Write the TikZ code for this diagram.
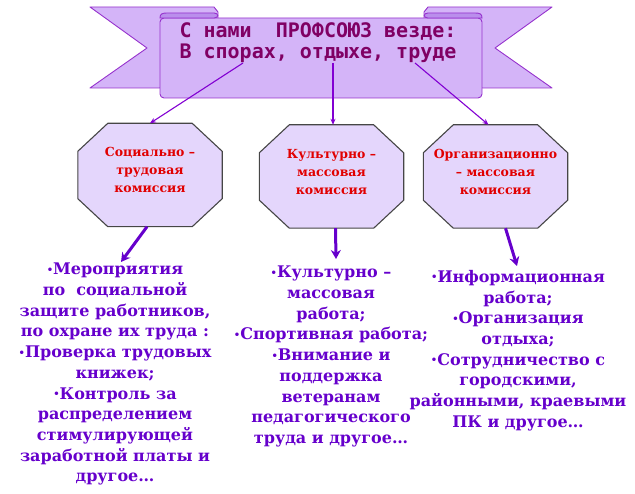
\documentclass[tikz,border=0pt]{standalone}
\usepackage{fontspec}
\setmainfont{DejaVu Serif}
\newfontfamily\bannerfont{DejaVu Sans Mono}
\usetikzlibrary{arrows.meta}
\definecolor{pkband}{RGB}{212,180,248}
\definecolor{pkcurl}{RGB}{186,142,236}
\definecolor{pkline}{RGB}{150,50,205}
\definecolor{pktitle}{RGB}{128,0,100}
\definecolor{pkthin}{RGB}{130,0,210}
\definecolor{pkokt}{RGB}{228,214,252}
\definecolor{pkrim}{RGB}{70,70,70}
\definecolor{pkred}{RGB}{225,0,0}
\definecolor{pklist}{RGB}{102,0,204}
\pgfdeclarelayer{back}
\pgfsetlayers{back,main}
\newcommand\blt{\raisebox{1.5pt}{\fontsize{10}{10}\selectfont •}}
\tikzset{
	band/.style={fill=pkband, draw=pkline, line width=0.9pt, line join=round},
	curl/.style={fill=pkcurl, draw=pkline, line width=0.9pt},
	titletext/.style={font=\bannerfont\bfseries\fontsize{20}{21}\selectfont, text=pktitle, align=left, inner sep=0pt},
	okt/.style={minimum width=144pt, minimum height=103pt, inner sep=0pt, text depth=10pt, align=center, text=pkred, font=\bfseries\fontsize{12.5}{18}\selectfont},
	oktbody/.style={fill=pkokt, draw=pkrim, line width=1.1pt},
	thinarrow/.style={draw=pkthin, line width=1.1pt, -{Stealth[length=6pt,width=5pt]}},
	thickarrow/.style={draw=pklist, line width=3pt, -{Stealth[length=9pt,width=10pt]}},
	listtext/.style={anchor=north, inner sep=0pt, align=center, text=pklist, font=\bfseries\fontsize{16}{20.7}\selectfont}
}

\begin{document}
\begin{tikzpicture}[x=1pt,y=-1pt]
		
		\useasboundingbox (0,0) rectangle (635,494);
		
		% ribbon
		\foreach \s/\o in {1/0,-1/642}{
			\begin{scope}[xshift=\o pt, xscale=\s]
				\draw[band] (90,7) -- (214,7) -- (218,12) -- (218,60) -- (160,88) -- (90,88) -- (147,48) -- cycle;
			\end{scope}
		}
		\draw[band, rounded corners=4pt] (160,18) -- (160,98) -- (482,98) -- (482,18) -- cycle;
		\foreach \s/\o in {1/0,-1/642}{
			\begin{scope}[xshift=\o pt, xscale=\s]
				\draw[curl] (160,18) .. controls (160,14) and (162,13) .. (167,13) -- (214,13) .. controls (219,13) and (219,18) .. (214,18) -- cycle;
			\end{scope}
		}
		\node[titletext] (banner) at (318,43) {С нами\ \ ПРОФСОЮЗ везде:\\В спорах, отдыхе, труде};
		
		% commissions
		\node[okt] (k1) at (150,175) {Социально –\\трудовая\\комиссия};
		\node[okt] (k2) at (331.5,176.5) {Культурно –\\массовая\\комиссия};
		\node[okt] (k3) at (495.5,176.5) {Организационно\\– массовая\\комиссия};
		\begin{pgfonlayer}{back}
			\foreach \k in {k1,k2,k3}
			\draw[oktbody] ([xshift=30pt]\k.north west) -- ([xshift=-30pt]\k.north east) -- ([yshift=-28pt]\k.north east) -- ([yshift=28pt]\k.south east) -- ([xshift=-30pt]\k.south east) -- ([xshift=30pt]\k.south west) -- ([yshift=28pt]\k.south west) -- ([yshift=-28pt]\k.north west) -- cycle;
		\end{pgfonlayer}
		
		\coordinate (b1) at (243,63);
		\coordinate (b2) at (333,63);
		\coordinate (b3) at (415,63);
		\draw[thinarrow] (b1) -- (k1.north);
		\draw[thinarrow] (b2) -- ([xshift=1.5pt]k2.north);
		\draw[thinarrow] (b3) -- ([xshift=-7pt]k3.north);
		
		% lists
		\node[listtext] (l1) at (115,263) {\blt Мероприятия\\по\ \ социальной\\защите работников,\\по охране их труда :\\\blt Проверка трудовых\\книжек;\\\blt Контроль за\\распределением\\стимулирующей\\заработной платы и\\другое…};
		\node[listtext] (l2) at (331,266) {\blt Культурно –\\массовая\\работа;\\\blt Спортивная работа;\\\blt Внимание и\\поддержка\\ветеранам\\педагогического\\труда и другое…};
		\node[listtext] (l3) at (518,270) {\blt Информационная\\работа;\\\blt Организация\\отдыха;\\\blt Сотрудничество с\\городскими,\\районными, краевыми\\ПК и другое…};
		
		\draw[thickarrow] ([xshift=-3pt]k1.south) -- ([xshift=6pt,yshift=1pt]l1.north);
		\draw[thickarrow] ([xshift=4pt]k2.south) -- ([xshift=5pt,yshift=7pt]l2.north);
		\draw[thickarrow] ([xshift=10pt]k3.south) -- ([xshift=-1pt,yshift=4pt]l3.north);
		
	\end{tikzpicture}
\end{document}
